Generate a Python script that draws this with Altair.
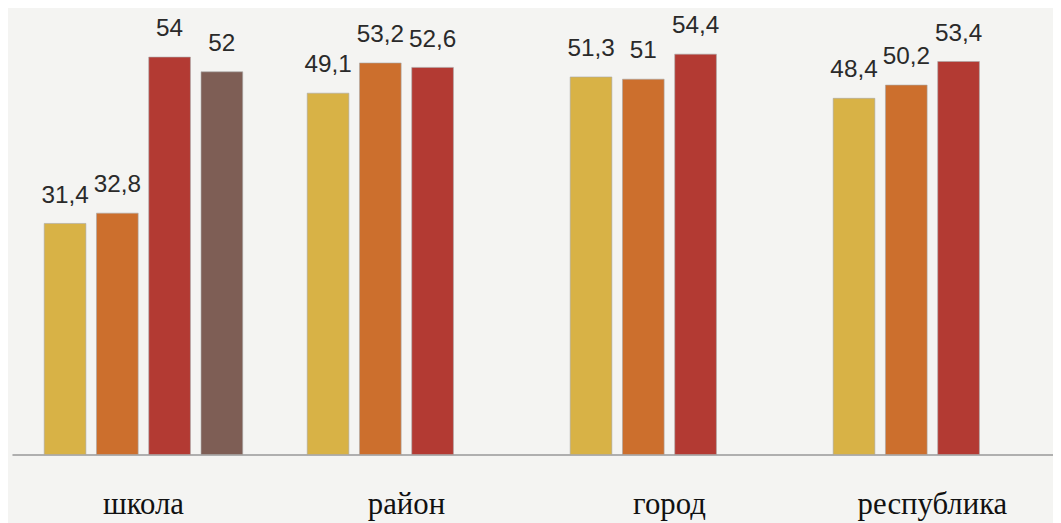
import altair as alt
import pandas as pd

groups = ["школа", "район", "город", "республика"]
series = ["s1", "s2", "s3", "s4"]
school = [31.4, 32.8, 54, 52]
rayon = [49.1, 53.2, 52.6]
gorod = [51.3, 51, 54.4]
respublika = [48.4, 50.2, 53.4]
colors = ["#D8B246", "#CC6F2D", "#B33A33", "#7E5E55"]

rows = []
for g, vals in zip(groups, [school, rayon, gorod, respublika]):
    for s, v in zip(series, vals):
        rows.append({"group": g, "series": s, "value": v,
                     "label": (f"{v:g}").replace(".", ",")})
df = pd.DataFrame(rows)

x = alt.X("group:N", sort=groups, title=None,
          scale=alt.Scale(range=[0, 1060], paddingInner=0, paddingOuter=0),
          axis=alt.Axis(labelAngle=0, ticks=False, labelPadding=59,
                        labelBaseline="alphabetic", labelFont="Liberation Serif",
                        labelFontSize=31, labelColor="#111",
                        domainColor="#999", domainWidth=1.5, grid=False))
xo = alt.XOffset("series:N", sort=series,
                 scale=alt.Scale(paddingInner=0.203, paddingOuter=0.617))
y = alt.Y("value:Q", scale=alt.Scale(domain=[0, 60], nice=False), axis=None)

bars = alt.Chart(df).mark_bar(stroke="#a8a8a8", strokeWidth=0.6).encode(
    x=x, xOffset=xo, y=y,
    color=alt.Color("series:N", sort=series,
                    scale=alt.Scale(domain=series, range=colors), legend=None),
)
text = alt.Chart(df).mark_text(baseline="alphabetic", dy=-21, fontSize=24.5,
                               font="Liberation Sans", color="#2a2a2a").encode(
    x=x, xOffset=xo, y=y, text="label:N")

chart = (bars + text).properties(
    width=1049, height=445, background="#f4f4f2",
    autosize=alt.AutoSizeParams(type="none"),
    padding={"left": 4, "top": 3, "right": 0, "bottom": 67},
).configure_view(stroke=None)

chart.save("out.html", embed_options={"renderer": "svg", "actions": False})
